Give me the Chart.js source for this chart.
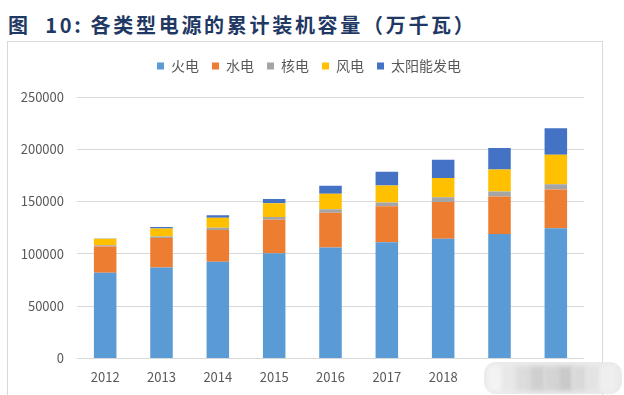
<!DOCTYPE html>
<html>
<head>
<meta charset="utf-8">
<script src="https://cdn.jsdelivr.net/npm/chart.js@4"></script>
<style>
body { margin: 0; background: #fff; width: 624px; height: 395px; overflow: hidden; position: relative; font-family: "Noto Sans CJK SC", sans-serif; }
#title { position: absolute; left: 8px; top: 10px; font-size: 20px; font-weight: bold; color: #1f3864; letter-spacing: 2.7px; white-space: nowrap; }
#frame { position: absolute; left: 7px; top: 41px; width: 594px; height: 370px; border: 1px solid #d9d9d9; }
canvas { position: absolute; left: 0; top: 0; }
</style>
</head>
<body>
<div id="title">图&nbsp;&nbsp;10:&nbsp;各类型电源的累计装机容量（万千瓦）</div>
<div id="frame"></div>
<canvas id="chart" width="624" height="395"></canvas>
<script>
// 年份
var years = ['2012', '2013', '2014', '2015', '2016', '2017', '2018', '2019', '2020'];
// 各类型装机容量（万千瓦）
var thermal = [81968, 87009, 92363, 100554, 106094, 111009, 114408, 119055, 124517];
var hydro   = [24947, 28044, 30486, 31954, 33207, 34411, 35226, 35804, 37016];
var nuclear = [1257, 1466, 2008, 2717, 3364, 3582, 4466, 4874, 4989];
var wind    = [6142, 7652, 9657, 13075, 14747, 16400, 18427, 21005, 28153];
var solar   = [341, 1589, 2486, 4218, 7631, 13025, 17463, 20468, 25343];
var yTicks  = [0, 50000, 100000, 150000, 200000, 250000];

// extra space under the legend, and nudge it right to sit over the frame centre
var legendGap = {
  id: 'legendGap',
  beforeInit: function (chart) {
    var fit = chart.legend.fit;
    chart.legend.fit = function () {
      fit.call(this);
      this.height += 14;
    };
  },
  afterLayout: function (chart) {
    chart.legend.left += 17;
    chart.legend.right += 17;
  }
};

// blurred watermark over the last labels
var watermark = {
  id: 'watermark',
  afterDraw: function (chart) {
    var ctx = chart.ctx;
    ctx.save();
    ctx.fillStyle = '#ebebeb';
    ctx.beginPath();
    ctx.roundRect(484, 362, 138, 32, 12);
    ctx.fill();
    ctx.filter = 'blur(2px)';
    var shades = ['#f3f3f3', '#e8e8e8', '#dcdcdc', '#cfcfcf', '#d4d4d4', '#c9c9c9', '#d9d9d9', '#e3e3e3', '#efefef'];
    for (var i = 0; i < shades.length; i++) {
      ctx.fillStyle = shades[i];
      ctx.fillRect(488 + i * 14, 366, 15, 25);
    }
    ctx.restore();
  }
};

var ctx = document.getElementById('chart');
new Chart(ctx, {
  type: 'bar',
  data: {
    labels: years,
    datasets: [
      { label: '火电', data: thermal, backgroundColor: '#5b9bd5' },
      { label: '水电', data: hydro, backgroundColor: '#ed7d31' },
      { label: '核电', data: nuclear, backgroundColor: '#a5a5a5' },
      { label: '风电', data: wind, backgroundColor: '#ffc000' },
      { label: '太阳能发电', data: solar, backgroundColor: '#4472c4' }
    ]
  },
  options: {
    responsive: false,
    animation: false,
    layout: { padding: { left: 0, right: 40, top: 46, bottom: 7 } },
    datasets: { bar: { categoryPercentage: 1, barPercentage: 0.4 } },
    plugins: {
      legend: {
        position: 'top',
        labels: {
          boxWidth: 7, boxHeight: 7, padding: 13,
          color: '#595959',
          font: { family: '"Noto Sans CJK SC", sans-serif', size: 14 }
        }
      },
      tooltip: { enabled: false }
    },
    scales: {
      x: {
        stacked: true,
        grid: { display: false },
        border: { display: false },
        ticks: { color: '#595959', padding: 3, font: { family: '"Noto Sans CJK SC", sans-serif', size: 13 } }
      },
      y: {
        stacked: true,
        min: 0, max: 250000,
        afterBuildTicks: function (s) { s.ticks = yTicks.map(function (v) { return { value: v }; }); },
        afterFit: function (s) { s.width = 77; },
        grid: { color: '#d9d9d9', drawTicks: false },
        border: { display: false },
        ticks: {
          color: '#595959', padding: 13,
          font: { family: '"Noto Sans CJK SC", sans-serif', size: 13 },
          callback: function (v) { return String(v); }
        }
      }
    }
  },
  plugins: [legendGap, watermark]
});
</script>
</body>
</html>
